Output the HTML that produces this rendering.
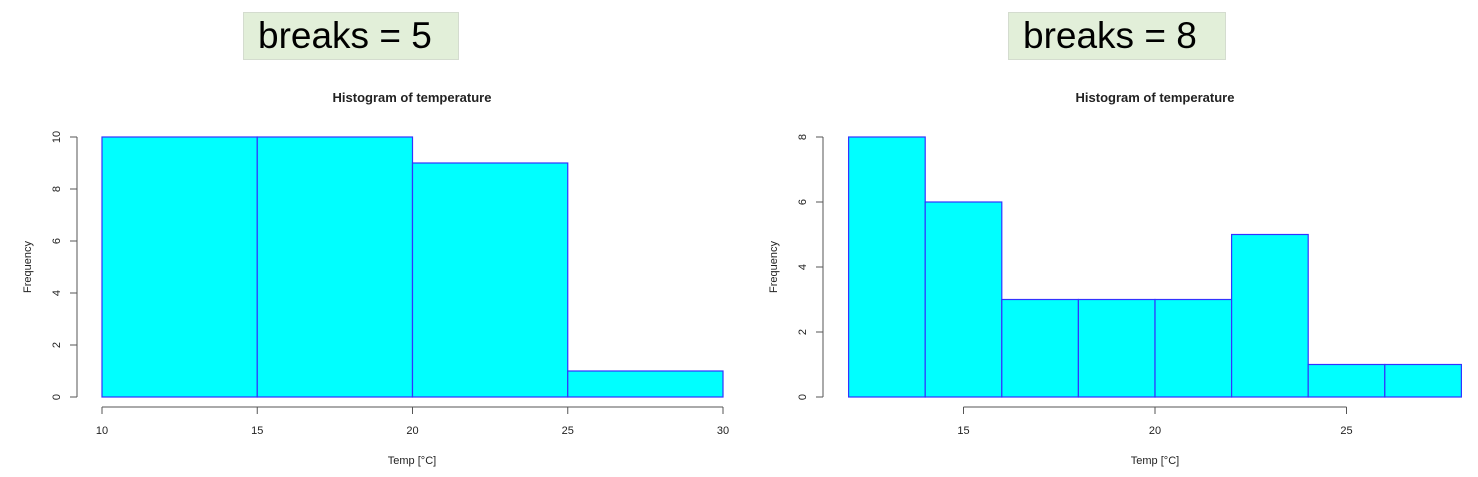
<!DOCTYPE html>
<html><head><meta charset="utf-8"><style>
html,body{margin:0;padding:0;background:#fff;width:1478px;height:477px;overflow:hidden}
.box{position:absolute;background:#e2efd9;border:1px solid #d4dccf;font-family:"Liberation Sans",sans-serif;font-size:37px;color:#000;box-sizing:border-box;line-height:46px;padding-left:14px}
svg{position:absolute;left:0;top:0}
text{font-family:"Liberation Sans",sans-serif;fill:#222}
</style></head><body>
<div class="box" style="left:243px;top:12px;width:216px;height:48px">breaks = 5</div>
<div class="box" style="left:1008px;top:12px;width:218px;height:48px">breaks = 8</div>
<svg id="svg" width="1478" height="477"></svg>
<script>
const breaksA = [10,15,20,25,30];
const countsA = [10,10,9,1];
const xTicksA = [10,15,20,25,30];
const yTicksA = [0,2,4,6,8,10];
const breaksB = [12,14,16,18,20,22,24,26,28];
const countsB = [8,6,3,3,3,5,1,1];
const xTicksB = [15,20,25];
const yTicksB = [0,2,4,6,8];

const NS="http://www.w3.org/2000/svg";
const svg=document.getElementById('svg');
function mk(tag,attrs,parent){const e=document.createElementNS(NS,tag);for(const k in attrs)e.setAttribute(k,attrs[k]);(parent||svg).appendChild(e);return e;}

function chart(cfg){
  const g=mk('g',{});
  
  
  const xs=v=>cfg.x0+(v-cfg.xmin)*cfg.xk;
  const ys=v=>397-(v/cfg.ymax)*260;
  const t=mk('text',{x:cfg.cx,y:102,'text-anchor':'middle','font-size':13,'font-weight':'bold'},g);
  t.textContent='Histogram of temperature';
  
  
  for(let i=0;i<cfg.counts.length;i++){
    const r=mk('rect',{x:xs(cfg.breaks[i]),y:ys(cfg.counts[i]),width:xs(cfg.breaks[i+1])-xs(cfg.breaks[i]),height:ys(0)-ys(cfg.counts[i]),fill:'#00ffff',stroke:'#3333ff','stroke-width':1.2},g);
    
    
  }
  const ya=mk('g',{},g);
  
  
  const yt=cfg.yTicks;
  mk('line',{x1:cfg.yax,x2:cfg.yax,y1:ys(yt[0]),y2:ys(yt[yt.length-1]),stroke:'#555'},ya);
  yt.forEach(v=>{
    mk('line',{x1:cfg.yax-7,x2:cfg.yax,y1:ys(v),y2:ys(v),stroke:'#555'},ya);
    const tx=mk('text',{x:cfg.yax-17,y:ys(v),'font-size':11,'text-anchor':'middle',transform:`rotate(-90 ${cfg.yax-17} ${ys(v)})`},ya);
    tx.textContent=v;
  });
  const xa=mk('g',{},g);
  
  
  const xt=cfg.xTicks;
  mk('line',{x1:xs(xt[0]),x2:xs(xt[xt.length-1]),y1:407,y2:407,stroke:'#555'},xa);
  xt.forEach(v=>{
    mk('line',{x1:xs(v),x2:xs(v),y1:407,y2:414,stroke:'#555'},xa);
    const tx=mk('text',{x:xs(v),y:434,'font-size':11,'text-anchor':'middle'},xa);
    tx.textContent=v;
  });
  const xl=mk('text',{x:cfg.cx,y:464,'font-size':11,'text-anchor':'middle'},g);
  xl.textContent='Temp [°C]';
  
  
  const ylx=cfg.yax-46;
  const yl=mk('text',{x:ylx,y:267,'font-size':11,'text-anchor':'middle',transform:`rotate(-90 ${ylx} 267)`},g);
  yl.textContent='Frequency';
  
  
}
chart({name:'histogram-breaks-5',breaks:breaksA,counts:countsA,xTicks:xTicksA,yTicks:yTicksA,xmin:10,x0:102,xk:31.05,ymax:10,yax:77,cx:412});
chart({name:'histogram-breaks-8',breaks:breaksB,counts:countsB,xTicks:xTicksB,yTicks:yTicksB,xmin:12,x0:848.6,xk:38.3,ymax:8,yax:823,cx:1155});
</script>
</body></html>
